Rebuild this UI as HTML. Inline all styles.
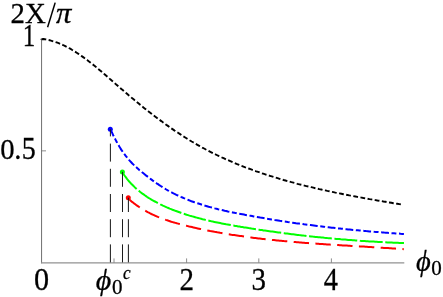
<!DOCTYPE html>
<html><head><meta charset="utf-8">
<style>
html,body{margin:0;padding:0;background:#fff;}
svg{display:block;}
text{font-family:"Liberation Serif",serif;fill:#000;stroke:#000;stroke-width:0.3px;}
</style></head>
<body>
<svg width="443" height="297" viewBox="0 0 443 297">
<rect width="443" height="297" fill="#fff"/>
<defs><filter id="soft" x="0" y="0" width="443" height="297" filterUnits="userSpaceOnUse"><feGaussianBlur stdDeviation="0.35"/></filter></defs>
<g filter="url(#soft)">
<!-- axes -->
<line x1="41.55" y1="39" x2="41.55" y2="263.2" stroke="#767676" stroke-width="1.05" fill="none"/>
<line x1="41" y1="262.8" x2="404.3" y2="262.8" stroke="#929292" stroke-width="1.3" fill="none"/>
<g stroke="#707070" stroke-width="0.8" fill="none">
<line x1="40" y1="39.3" x2="45.5" y2="39.3"/>
<line x1="41" y1="150.85" x2="46" y2="150.85"/>
<line x1="114" y1="258.4" x2="114" y2="262.7"/>
<line x1="186.6" y1="258.4" x2="186.6" y2="262.7"/>
<line x1="258.8" y1="258.4" x2="258.8" y2="262.7"/>
<line x1="331.4" y1="258.4" x2="331.4" y2="262.7"/>
</g>
<!-- curves -->
<path d="M41.5 39.3 L43.6 39.0 L45.6 39.4 L47.6 39.8 L49.6 40.2 L51.6 40.8 L53.5 41.4 L55.5 42.0 L57.4 42.7 L59.2 43.4 L61.1 44.2 L63.0 45.0 L64.8 45.9 L66.6 46.8 L68.4 47.8 L70.2 48.7 L71.9 49.8 L73.6 50.8 L75.4 51.9 L77.1 53.0 L78.8 54.1 L80.5 55.3 L82.1 56.4 L83.8 57.6 L85.4 58.8 L87.1 60.0 L88.7 61.3 L90.3 62.5 L91.9 63.8 L93.5 65.0 L95.1 66.3 L96.7 67.6 L98.2 68.9 L99.8 70.2 L101.4 71.5 L102.9 72.9 L104.5 74.2 L106.0 75.5 L107.5 76.9 L109.1 78.2 L110.6 79.6 L112.2 80.9 L113.7 82.3 L115.2 83.6 L116.8 85.0 L118.3 86.3 L119.9 87.7 L121.4 89.0 L123.0 90.3 L124.5 91.7 L126.1 93.0 L127.6 94.3 L129.2 95.7 L130.8 97.0 L132.3 98.3 L133.9 99.6 L135.5 100.9 L137.1 102.2 L138.7 103.5 L140.2 104.8 L141.8 106.1 L143.4 107.4 L145.0 108.7 L146.6 110.0 L148.2 111.2 L149.9 112.5 L151.5 113.7 L153.1 115.0 L154.7 116.2 L156.4 117.5 L158.0 118.7 L159.6 119.9 L161.3 121.1 L162.9 122.3 L164.6 123.5 L166.2 124.7 L167.9 125.9 L169.6 127.1 L171.2 128.3 L172.9 129.4 L174.6 130.6 L176.3 131.7 L178.0 132.8 L179.7 133.9 L181.4 135.1 L183.1 136.2 L184.8 137.2 L186.5 138.3 L188.3 139.4 L190.0 140.5 L191.7 141.5 L193.5 142.5 L195.2 143.6 L197.0 144.6 L198.8 145.6 L200.5 146.6 L202.3 147.6 L204.1 148.5 L205.9 149.5 L207.7 150.4 L209.5 151.4 L211.3 152.3 L213.1 153.2 L214.9 154.1 L216.7 155.0 L218.6 155.9 L220.4 156.7 L222.3 157.6 L224.1 158.4 L225.9 159.3 L227.8 160.1 L229.7 160.9 L231.5 161.7 L233.4 162.5 L235.3 163.3 L237.2 164.1 L239.1 164.8 L240.9 165.6 L242.8 166.3 L244.7 167.1 L246.6 167.8 L248.6 168.5 L250.5 169.2 L252.4 169.9 L254.3 170.6 L256.2 171.3 L258.2 171.9 L260.1 172.6 L262.0 173.3 L264.0 173.9 L265.9 174.6 L267.9 175.2 L269.8 175.8 L271.8 176.4 L273.7 177.0 L275.7 177.6 L277.6 178.2 L279.6 178.8 L281.6 179.4 L283.5 180.0 L285.5 180.5 L287.5 181.1 L289.4 181.6 L291.4 182.2 L293.4 182.7 L295.4 183.2 L297.4 183.8 L299.4 184.3 L301.4 184.8 L303.3 185.3 L305.3 185.8 L307.3 186.3 L309.3 186.7 L311.3 187.2 L313.3 187.7 L315.3 188.2 L317.3 188.6 L319.3 189.1 L321.3 189.5 L323.3 190.0 L325.3 190.4 L327.3 190.9 L329.3 191.3 L331.3 191.7 L333.4 192.1 L335.4 192.6 L337.4 193.0 L339.4 193.4 L341.4 193.8 L343.4 194.2 L345.4 194.6 L347.4 195.0 L349.4 195.4 L351.4 195.7 L353.4 196.1 L355.4 196.5 L357.4 196.9 L359.4 197.2 L361.5 197.6 L363.5 198.0 L365.5 198.3 L367.5 198.7 L369.5 199.1 L371.5 199.4 L373.5 199.8 L375.5 200.1 L377.4 200.5 L379.4 200.8 L381.4 201.1 L383.4 201.5 L385.4 201.8 L387.4 202.2 L389.4 202.5 L391.4 202.8 L393.3 203.2 L395.3 203.5 L397.3 203.8 L399.3 204.1 L401.2 204.5 L403.2 204.8" fill="none" stroke="#000" stroke-width="1.9" stroke-dasharray="4.8 2.45"/>
<path d="M110.2 129.3 L111.1 130.7 L111.8 132.2 L112.5 133.7 L113.2 135.2 L114.0 136.7 L114.7 138.1 L115.5 139.6 L116.2 141.1 L117.0 142.5 L117.8 144.0 L118.7 145.4 L119.5 146.8 L120.4 148.2 L121.2 149.6 L122.1 150.9 L123.1 152.3 L124.0 153.6 L125.0 154.9 L125.9 156.2 L127.0 157.4 L128.0 158.7 L129.0 159.9 L130.1 161.1 L131.2 162.3 L132.3 163.5 L133.5 164.6 L134.7 165.8 L135.9 166.9 L137.1 168.0 L138.3 169.1 L139.5 170.2 L140.8 171.2 L142.1 172.3 L143.4 173.3 L144.6 174.3 L145.9 175.4 L147.3 176.4 L148.6 177.4 L149.9 178.4 L151.2 179.4 L152.5 180.4 L153.9 181.4 L155.2 182.3 L156.6 183.3 L158.0 184.2 L159.3 185.1 L160.7 186.0 L162.1 186.9 L163.5 187.8 L164.9 188.6 L166.3 189.5 L167.7 190.3 L169.2 191.1 L170.6 191.9 L172.0 192.6 L173.5 193.4 L175.0 194.1 L176.4 194.8 L177.9 195.5 L179.4 196.2 L180.9 196.9 L182.4 197.5 L183.9 198.2 L185.4 198.8 L186.9 199.4 L188.4 200.0 L189.9 200.6 L191.4 201.2 L193.0 201.7 L194.5 202.3 L196.1 202.8 L197.6 203.3 L199.2 203.8 L200.7 204.3 L202.3 204.8 L203.9 205.3 L205.4 205.8 L207.0 206.2 L208.6 206.7 L210.2 207.1 L211.8 207.5 L213.4 207.9 L214.9 208.4 L216.5 208.8 L218.1 209.2 L219.7 209.5 L221.3 209.9 L223.0 210.3 L224.6 210.7 L226.2 211.0 L227.8 211.4 L229.4 211.7 L231.0 212.1 L232.6 212.4 L234.3 212.7 L235.9 213.1 L237.5 213.4 L239.1 213.7 L240.7 214.0 L242.4 214.3 L244.0 214.6 L245.6 214.9 L247.2 215.2 L248.9 215.5 L250.5 215.8 L252.1 216.1 L253.7 216.4 L255.3 216.7 L257.0 217.0 L258.6 217.3 L260.2 217.6 L261.8 217.8 L263.5 218.1 L265.1 218.4 L266.7 218.7 L268.3 218.9 L270.0 219.2 L271.6 219.5 L273.2 219.7 L274.8 220.0 L276.5 220.2 L278.1 220.5 L279.7 220.8 L281.3 221.0 L283.0 221.3 L284.6 221.5 L286.2 221.7 L287.8 222.0 L289.5 222.2 L291.1 222.5 L292.7 222.7 L294.3 222.9 L296.0 223.2 L297.6 223.4 L299.2 223.6 L300.8 223.8 L302.5 224.0 L304.1 224.3 L305.7 224.5 L307.3 224.7 L309.0 224.9 L310.6 225.1 L312.2 225.3 L313.9 225.5 L315.5 225.7 L317.1 225.9 L318.7 226.1 L320.4 226.3 L322.0 226.5 L323.6 226.7 L325.3 226.9 L326.9 227.1 L328.5 227.3 L330.2 227.5 L331.8 227.7 L333.4 227.8 L335.1 228.0 L336.7 228.2 L338.3 228.4 L340.0 228.5 L341.6 228.7 L343.2 228.9 L344.9 229.1 L346.5 229.2 L348.1 229.4 L349.8 229.5 L351.4 229.7 L353.0 229.9 L354.7 230.0 L356.3 230.2 L357.9 230.3 L359.6 230.5 L361.2 230.6 L362.9 230.8 L364.5 230.9 L366.1 231.1 L367.8 231.2 L369.4 231.4 L371.0 231.5 L372.7 231.6 L374.3 231.8 L376.0 231.9 L377.6 232.0 L379.2 232.2 L380.9 232.3 L382.5 232.4 L384.2 232.6 L385.8 232.7 L387.5 232.8 L389.1 232.9 L390.8 233.1 L392.4 233.2 L394.0 233.3 L395.7 233.4 L397.3 233.5 L399.0 233.6 L400.6 233.8 L402.3 233.9 L403.9 234.0" fill="none" stroke="#0000ff" stroke-width="2" stroke-dasharray="7.8 2.6 4.9 2.6"/>
<path d="M122.4 171.4 L122.7 172.9 L123.6 174.2 L124.5 175.5 L125.4 176.7 L126.3 177.9 L127.2 179.1 L128.2 180.3 L129.2 181.5 L130.2 182.6 L131.2 183.7 L132.3 184.8 L133.3 185.8 L134.4 186.9 L135.5 187.9 L136.6 188.9 L137.7 189.9 L138.8 190.8 L140.0 191.8 L141.2 192.7 L142.4 193.6 L143.6 194.4 L144.8 195.3 L146.0 196.1 L147.2 197.0 L148.5 197.8 L149.7 198.5 L151.0 199.3 L152.3 200.1 L153.6 200.8 L154.9 201.5 L156.2 202.2 L157.5 202.9 L158.8 203.6 L160.2 204.3 L161.5 204.9 L162.9 205.6 L164.2 206.2 L165.6 206.8 L166.9 207.4 L168.3 208.0 L169.7 208.6 L171.1 209.1 L172.5 209.7 L173.9 210.2 L175.3 210.8 L176.7 211.3 L178.1 211.8 L179.5 212.3 L180.9 212.8 L182.3 213.3 L183.7 213.8 L185.2 214.2 L186.6 214.7 L188.0 215.1 L189.5 215.6 L190.9 216.0 L192.3 216.4 L193.8 216.8 L195.2 217.2 L196.7 217.6 L198.1 218.0 L199.6 218.4 L201.1 218.8 L202.5 219.2 L204.0 219.5 L205.5 219.9 L206.9 220.2 L208.4 220.6 L209.9 220.9 L211.3 221.3 L212.8 221.6 L214.3 221.9 L215.8 222.2 L217.3 222.5 L218.7 222.8 L220.2 223.1 L221.7 223.4 L223.2 223.7 L224.7 224.0 L226.2 224.3 L227.7 224.5 L229.2 224.8 L230.6 225.1 L232.1 225.4 L233.6 225.6 L235.1 225.9 L236.6 226.1 L238.1 226.4 L239.6 226.6 L241.1 226.9 L242.6 227.1 L244.1 227.4 L245.6 227.6 L247.1 227.8 L248.6 228.1 L250.0 228.3 L251.5 228.6 L253.0 228.8 L254.5 229.0 L256.0 229.2 L257.5 229.5 L259.0 229.7 L260.5 229.9 L262.0 230.1 L263.4 230.4 L264.9 230.6 L266.4 230.8 L267.9 231.0 L269.4 231.2 L270.9 231.4 L272.4 231.6 L273.9 231.8 L275.3 232.0 L276.8 232.2 L278.3 232.4 L279.8 232.6 L281.3 232.8 L282.8 233.0 L284.3 233.2 L285.7 233.4 L287.2 233.6 L288.7 233.8 L290.2 234.0 L291.7 234.2 L293.2 234.3 L294.7 234.5 L296.1 234.7 L297.6 234.9 L299.1 235.1 L300.6 235.2 L302.1 235.4 L303.6 235.6 L305.1 235.7 L306.5 235.9 L308.0 236.1 L309.5 236.2 L311.0 236.4 L312.5 236.6 L314.0 236.7 L315.5 236.9 L316.9 237.0 L318.4 237.2 L319.9 237.3 L321.4 237.5 L322.9 237.6 L324.4 237.8 L325.9 237.9 L327.4 238.1 L328.8 238.2 L330.3 238.3 L331.8 238.5 L333.3 238.6 L334.8 238.7 L336.3 238.9 L337.8 239.0 L339.3 239.1 L340.8 239.3 L342.3 239.4 L343.8 239.5 L345.2 239.6 L346.7 239.7 L348.2 239.9 L349.7 240.0 L351.2 240.1 L352.7 240.2 L354.2 240.3 L355.7 240.4 L357.2 240.5 L358.7 240.6 L360.2 240.8 L361.7 240.9 L363.2 241.0 L364.7 241.1 L366.2 241.2 L367.7 241.3 L369.2 241.4 L370.7 241.4 L372.2 241.5 L373.7 241.6 L375.2 241.7 L376.7 241.8 L378.2 241.9 L379.7 242.0 L381.3 242.1 L382.8 242.1 L384.3 242.2 L385.8 242.3 L387.3 242.4 L388.8 242.4 L390.3 242.5 L391.8 242.6 L393.3 242.7 L394.9 242.7 L396.4 242.8 L397.9 242.8 L399.4 242.9 L400.9 243.0 L402.4 243.0 L404.0 243.1" fill="none" stroke="#00ff00" stroke-width="2" stroke-dasharray="22.9 2.6"/>
<path d="M128.2 197.6 L128.8 199.0 L129.9 200.0 L131.0 200.9 L132.1 201.9 L133.3 202.8 L134.4 203.7 L135.6 204.5 L136.7 205.4 L137.9 206.2 L139.1 207.0 L140.3 207.8 L141.5 208.5 L142.7 209.3 L143.9 210.0 L145.2 210.7 L146.4 211.4 L147.6 212.1 L148.9 212.7 L150.2 213.4 L151.4 214.0 L152.7 214.6 L154.0 215.2 L155.3 215.8 L156.6 216.3 L157.9 216.9 L159.2 217.4 L160.5 217.9 L161.9 218.4 L163.2 218.9 L164.5 219.4 L165.9 219.9 L167.2 220.3 L168.6 220.8 L169.9 221.2 L171.3 221.7 L172.6 222.1 L174.0 222.5 L175.4 222.9 L176.8 223.3 L178.1 223.6 L179.5 224.0 L180.9 224.4 L182.3 224.8 L183.7 225.1 L185.1 225.5 L186.5 225.8 L187.8 226.1 L189.2 226.5 L190.6 226.8 L192.0 227.1 L193.4 227.4 L194.8 227.7 L196.2 228.1 L197.6 228.4 L199.0 228.7 L200.4 229.0 L201.8 229.3 L203.2 229.6 L204.6 229.8 L206.0 230.1 L207.4 230.4 L208.8 230.7 L210.2 231.0 L211.6 231.2 L213.1 231.5 L214.5 231.8 L215.9 232.0 L217.3 232.3 L218.7 232.5 L220.1 232.8 L221.5 233.0 L222.9 233.3 L224.3 233.5 L225.7 233.8 L227.1 234.0 L228.6 234.2 L230.0 234.4 L231.4 234.7 L232.8 234.9 L234.2 235.1 L235.6 235.3 L237.0 235.5 L238.5 235.7 L239.9 235.9 L241.3 236.1 L242.7 236.3 L244.1 236.5 L245.6 236.7 L247.0 236.9 L248.4 237.1 L249.8 237.3 L251.2 237.5 L252.7 237.7 L254.1 237.9 L255.5 238.0 L256.9 238.2 L258.3 238.4 L259.8 238.5 L261.2 238.7 L262.6 238.9 L264.0 239.0 L265.5 239.2 L266.9 239.4 L268.3 239.5 L269.7 239.7 L271.2 239.8 L272.6 240.0 L274.0 240.1 L275.4 240.2 L276.9 240.4 L278.3 240.5 L279.7 240.7 L281.1 240.8 L282.6 240.9 L284.0 241.1 L285.4 241.2 L286.8 241.3 L288.3 241.5 L289.7 241.6 L291.1 241.7 L292.6 241.8 L294.0 242.0 L295.4 242.1 L296.8 242.2 L298.3 242.3 L299.7 242.4 L301.1 242.5 L302.6 242.7 L304.0 242.8 L305.4 242.9 L306.9 243.0 L308.3 243.1 L309.7 243.2 L311.1 243.3 L312.6 243.4 L314.0 243.5 L315.4 243.6 L316.9 243.7 L318.3 243.8 L319.7 243.9 L321.2 244.0 L322.6 244.1 L324.0 244.2 L325.4 244.3 L326.9 244.4 L328.3 244.5 L329.7 244.6 L331.2 244.7 L332.6 244.7 L334.0 244.8 L335.4 244.9 L336.9 245.0 L338.3 245.1 L339.7 245.2 L341.2 245.3 L342.6 245.4 L344.0 245.5 L345.5 245.5 L346.9 245.6 L348.3 245.7 L349.7 245.8 L351.2 245.9 L352.6 246.0 L354.0 246.1 L355.4 246.1 L356.9 246.2 L358.3 246.3 L359.7 246.4 L361.2 246.5 L362.6 246.6 L364.0 246.6 L365.4 246.7 L366.9 246.8 L368.3 246.9 L369.7 247.0 L371.1 247.1 L372.6 247.2 L374.0 247.2 L375.4 247.3 L376.8 247.4 L378.2 247.5 L379.7 247.6 L381.1 247.7 L382.5 247.8 L383.9 247.9 L385.4 248.0 L386.8 248.0 L388.2 248.1 L389.6 248.2 L391.0 248.3 L392.5 248.4 L393.9 248.5 L395.3 248.6 L396.7 248.7 L398.1 248.8 L399.5 248.9 L401.0 249.0 L402.4 249.1 L403.8 249.2" fill="none" stroke="#ff0000" stroke-width="2" stroke-dasharray="15.4 6.4"/>
<circle cx="110.3" cy="129.2" r="2.5" fill="#0000ff"/>
<circle cx="122.4" cy="171.9" r="2.5" fill="#00ff00"/>
<circle cx="128.3" cy="197.7" r="2.5" fill="#ff0000"/>
<!-- vertical dashed guides -->
<g stroke="#1a1a1a" stroke-width="1" fill="none" stroke-dasharray="18 7.2">
<line x1="110.4" y1="262.4" x2="110.4" y2="129.2"/>
<line x1="122.5" y1="262.4" x2="122.5" y2="171.9"/>
<line x1="128.4" y1="262.4" x2="128.4" y2="197.7"/>
</g>
<!-- labels -->
<text transform="translate(10.60,23.00) scale(0.96,1)" font-size="30">2</text>
<text transform="translate(25.00,23.00) scale(0.96,1)" font-size="30">X</text>
<text transform="translate(56.10,23.30) scale(1.06,1)" font-size="29" font-style="italic">π</text>
<text transform="translate(22.80,46.45) scale(0.8,1)" font-size="31.3">1</text>
<text transform="translate(0.20,158.70) scale(0.94,1)" font-size="30.5">0</text>
<text transform="translate(14.30,158.80) scale(0.94,1)" font-size="30.5">.</text>
<text transform="translate(21.80,158.70) scale(0.92,1)" font-size="30.5">5</text>
<text transform="translate(33.90,289.60) scale(0.96,1)" font-size="31.5">0</text>
<text transform="translate(179.40,289.50) scale(0.92,1)" font-size="31.5">2</text>
<text transform="translate(251.40,289.60) scale(0.92,1)" font-size="31.5">3</text>
<text transform="translate(323.70,289.50) scale(0.9,1)" font-size="31.5">4</text>
<text transform="translate(95.80,289.80) scale(1.05,1)" font-size="28.5" font-style="italic">ϕ</text>
<text transform="translate(112.00,294.20) scale(1.0,1)" font-size="21">0</text>
<text transform="translate(123.00,278.60) scale(0.95,1)" font-size="18" font-style="italic">c</text>
<text transform="translate(415.90,271.00) scale(1.0,1)" font-size="28.5" font-style="italic">ϕ</text>
<text transform="translate(431.20,275.00) scale(1.0,1)" font-size="21">0</text>
<line x1="47.6" y1="27.2" x2="55.2" y2="2.6" stroke="#000" stroke-width="1.5"/>
</g>
</svg>
</body></html>
